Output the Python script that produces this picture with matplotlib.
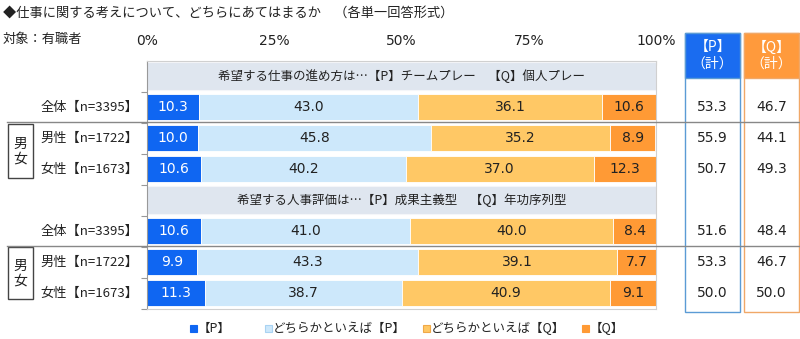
import matplotlib
matplotlib.use("Agg")
import matplotlib.pyplot as plt
from matplotlib.patches import Rectangle
from matplotlib.lines import Line2D
import matplotlib.transforms as mtransforms

plt.rcParams['font.family'] = ['Noto Sans CJK JP', 'DejaVu Sans']

# ---- data ----
row_labels = ["全体【n=3395】", "男性【n=1722】", "女性【n=1673】",
              "全体【n=3395】", "男性【n=1722】", "女性【n=1673】"]
headers = ["希望する仕事の進め方は…【P】チームプレー　【Q】個人プレー",
           "希望する人事評価は…【P】成果主義型　【Q】年功序列型"]
p_strong = [10.3, 10.0, 10.6, 10.6, 9.9, 11.3]
p_weak = [43.0, 45.8, 40.2, 41.0, 43.3, 38.7]
q_weak = [36.1, 35.2, 37.0, 40.0, 39.1, 40.9]
q_strong = [10.6, 8.9, 12.3, 8.4, 7.7, 9.1]
p_total = [53.3, 55.9, 50.7, 51.6, 53.3, 50.0]
q_total = [46.7, 44.1, 49.3, 48.4, 46.7, 50.0]
legend_labels = ["【P】", "どちらかといえば【P】", "どちらかといえば【Q】", "【Q】"]
x_ticks = [0, 25, 50, 75, 100]
x_ticklabels = ["0%", "25%", "50%", "75%", "100%"]

row_pos = [1, 2, 3, 5, 6, 7]
header_pos = [0, 4]

colors = ["#0f66f2", "#cde8fb", "#ffc865", "#ff9a35"]
text_colors = ["white", "#222222", "#222222", "#222222"]
NUMFONT = "DejaVu Sans"

W, H = 800, 339
fig = plt.figure(figsize=(W / 100, H / 100), dpi=100)
ax = fig.add_axes([147 / W, 1 - 308.5 / H, (656 - 147) / W, (308.5 - 60.5) / H])

series = [p_strong, p_weak, q_weak, q_strong]
lefts = [0.0] * len(row_pos)
for k, vals in enumerate(series):
    ax.barh(row_pos, vals, left=lefts, height=0.87, color=colors[k],
            edgecolor="white", linewidth=0.6, zorder=2)
    for y, l, v in zip(row_pos, lefts, vals):
        ax.text(l + v / 2, y, f"{v:.1f}", ha="center", va="center",
                fontsize=10, family=NUMFONT, color=text_colors[k], zorder=3)
    lefts = [a + b for a, b in zip(lefts, vals)]

# header bands
for y, t in zip(header_pos, headers):
    ax.barh([y], [100], left=0, height=0.9, color="#dfe6ef",
            edgecolor="#f4f6f9", linewidth=0.8, zorder=2)
    ax.text(50, y, t, ha="center", va="center", fontsize=9, color="#222222", zorder=3)

ax.set_xlim(0, 100)
ax.set_ylim(7.5, -0.5)
ax.xaxis.tick_top()
ax.set_xticks(x_ticks)
ax.set_xticklabels(x_ticklabels, fontsize=10, color="#222222", family=NUMFONT)
ax.tick_params(axis="x", direction="in", length=3, color="#bbbbbb", pad=9)
ax.set_yticks([0.5, 1.5, 2.5, 3.5, 4.5, 5.5, 6.5, 7.5])
ax.set_yticklabels([])
ax.tick_params(axis="y", direction="out", length=4, color="#999999")
for s in ["top", "right", "bottom"]:
    ax.spines[s].set_color("#d0d0d0")
    ax.spines[s].set_linewidth(0.8)
ax.spines["left"].set_color("#999999")

# blended transform: x in figure fraction, y in data
bt = mtransforms.blended_transform_factory(fig.transFigure, ax.transData)

for y, lab in zip(row_pos, row_labels):
    fig.text(138 / W, y, lab, transform=bt, ha="right", va="center",
             fontsize=9.5, color="#222222")

# separators
for y in [1.47, 5.47]:
    fig.add_artist(Line2D([7 / W, 1.0], [y, y], transform=bt, color="#888888", linewidth=1.0))

# gender boxes
for y0, y1 in [(1.55, 3.3), (5.52, 7.2)]:
    fig.add_artist(Rectangle((8 / W, y0), 25 / W, y1 - y0, transform=bt,
                             facecolor="white", edgecolor="#444444", linewidth=1.0))
    fig.text(20.5 / W, (y0 + y1) / 2, "男\n女", transform=bt, ha="center", va="center",
             fontsize=10, color="#222222", linespacing=1.0)

# total columns
def fy(px):
    return 1 - px / H

cols = [(685, 740, "#1a6cf0", "#5b9bd5", p_total, "【P】\n（計）"),
        (744, 799, "#ff9a3c", "#f0a868", q_total, "【Q】\n（計）")]
for x0, x1, hc, bc, vals, htxt in cols:
    fig.add_artist(Rectangle((x0 / W, fy(312)), (x1 - x0) / W, (312 - 33) / H,
                             transform=fig.transFigure, facecolor="white",
                             edgecolor=bc, linewidth=1.0))
    fig.add_artist(Rectangle((x0 / W, fy(78)), (x1 - x0) / W, (78 - 33) / H,
                             transform=fig.transFigure, facecolor=hc,
                             edgecolor=bc, linewidth=1.0))
    fig.text((x0 + x1) / 2 / W, fy(55.5), htxt, ha="center", va="center",
             fontsize=10, color="white", linespacing=1.2)
    for y, v in zip(row_pos, vals):
        fig.text((x0 + x1) / 2 / W, y, f"{v:.1f}", transform=bt, ha="center",
                 va="center", fontsize=10, family=NUMFONT, color="#222222")

# title
fig.text(3 / W, fy(14), "◆仕事に関する考えについて、どちらにあてはまるか　（各単一回答形式）",
         ha="left", va="center", fontsize=9.5, color="#222222")
fig.text(3 / W, fy(39), "対象：有職者", ha="left", va="center", fontsize=9.5, color="#222222")

# legend
leg_x = [190, 265, 423, 582]
leg_edges = [colors[0], "#a9d3f2", "#f0a848", colors[3]]
for x, c, ec, lab in zip(leg_x, colors, leg_edges, legend_labels):
    fig.add_artist(Rectangle((x / W, fy(332)), 7 / W, 7 / H, transform=fig.transFigure,
                             facecolor=c, edgecolor=ec, linewidth=0.8))
    fig.text((x + 8) / W, fy(328.5), lab, ha="left", va="center", fontsize=9,
             color="#222222")

fig.savefig("out.png", dpi=100)
